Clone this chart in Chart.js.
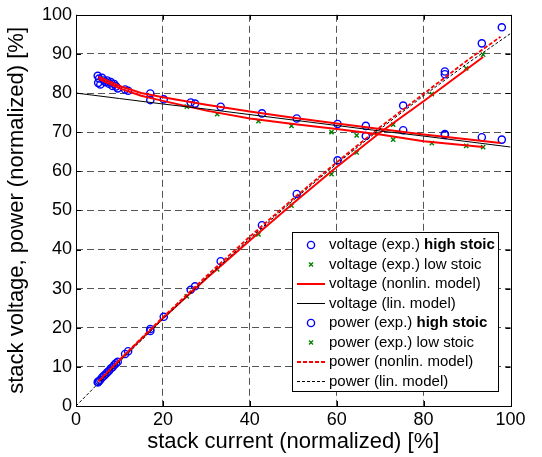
<!DOCTYPE html>
<html>
<head>
<meta charset="utf-8">
<script src="https://cdn.jsdelivr.net/npm/chart.js@4.4.0/dist/chart.umd.min.js"></script>
<style>
  html, body { margin: 0; padding: 0; background: #fff; }
  #wrap { width: 542px; height: 457px; }
</style>
</head>
<body>
<div id="wrap"><canvas id="grafico" width="542" height="457"></canvas></div>
<script>
// ticks
const xTicks = [0, 20, 40, 60, 80, 100];
const yTicks = [0, 10, 20, 30, 40, 50, 60, 70, 80, 90, 100];

// measurements, high stoic (current / voltage / power, all in %)
const iHigh = [5.0, 5.1, 5.3, 5.6, 6.0, 6.4, 6.8, 7.2, 7.6, 8.0, 8.4, 8.8, 9.2, 9.6, 11.3, 12.0, 17.1, 17.1, 20.2, 26.4, 27.4, 33.3, 42.8, 50.8, 60.2, 66.7, 75.3, 84.9, 84.9, 93.4, 98.0];
const vHigh = [84.4, 82.6, 83.7, 82.2, 83.9, 83.2, 82.8, 83.2, 82.4, 82.8, 81.8, 82.3, 81.7, 81.2, 80.9, 80.6, 79.9, 78.2, 78.4, 77.6, 77.3, 76.5, 74.8, 73.5, 72.1, 71.6, 70.5, 69.5, 69.3, 68.7, 68.1];
const pHigh = [6.1, 6.1, 6.4, 6.7, 7.3, 7.7, 8.1, 8.6, 9.0, 9.6, 9.9, 10.5, 10.9, 11.3, 13.3, 14.0, 19.7, 19.2, 22.8, 29.7, 30.6, 37.0, 46.2, 54.2, 62.8, 69.0, 76.8, 85.5, 84.8, 92.7, 96.8];

// measurements, low stoic
const iLow = [25.5, 32.5, 42.0, 49.6, 58.8, 64.6, 73.0, 81.9, 89.8, 93.7];
const vLow = [76.5, 74.6, 72.8, 71.6, 70.0, 69.2, 68.1, 67.2, 66.5, 66.2];
const pLow = [28.0, 34.9, 43.9, 51.2, 59.3, 64.8, 71.9, 79.7, 86.3, 89.8];

// nonlinear model, upper curve
const iNonA = [5.2, 10, 15, 20, 30, 40, 50, 60, 70, 80, 90, 97.7];
const vNonA = [84.2, 81.8, 80.0, 78.9, 77.0, 75.3, 73.7, 72.2, 70.8, 69.4, 68.2, 67.2];
const pNonA = [6.3, 11.8, 17.3, 22.7, 33.2, 43.3, 53.0, 62.3, 71.3, 79.8, 88.3, 94.4];

// nonlinear model, lower curve
const iNonB = [5.2, 10, 15, 20, 30, 40, 50, 60, 70, 80, 93.7];
const vNonB = [83.6, 81.2, 79.3, 78.0, 75.5, 73.5, 72.1, 70.8, 69.4, 67.7, 66.2];
const pNonB = [6.25, 11.7, 17.1, 22.4, 32.6, 42.3, 51.8, 61.1, 69.9, 77.9, 89.2];

// linear model
const iLin = [0, 10, 20, 30, 40, 50, 60, 70, 80, 90, 100];
const vLin = [80.0, 78.6, 77.2, 75.9, 74.5, 73.1, 71.7, 70.3, 69.0, 67.6, 66.2];
const pLin = [0, 11.3, 22.2, 32.7, 42.8, 52.6, 61.9, 70.8, 79.3, 87.5, 95.2];

const pts = (xs, ys) => xs.map((x, i) => ({ x, y: ys[i] }));

const FONT = 'Liberation Sans, Arial, sans-serif';

const linha = (label, xs, ys, cor, largura, tracejado, leg) => ({
  label, leg, data: pts(xs, ys), showLine: true, pointRadius: 0,
  borderColor: cor, borderWidth: largura, borderDash: tracejado, fill: false
});
const marcas = (label, bold, xs, ys, estilo, cor, raio, leg) => ({
  label, bold, leg, data: pts(xs, ys), showLine: false,
  pointStyle: estilo, pointRadius: raio, pointBorderColor: cor, pointBackgroundColor: 'rgba(0,0,0,0)',
  pointBorderWidth: 1.4, borderColor: cor
});

// dataset 0 is drawn on top
const datasets = [
  linha('power (lin. model)', iLin, pLin, '#000', 1, [3, 2], 7),
  linha('voltage (lin. model)', iLin, vLin, '#000', 1, [], 3),
  linha('power (nonlin. model)', iNonA, pNonA, '#ff0000', 1.8, [4, 2], 6),
  linha('', iNonB, pNonB, '#ff0000', 2, [], -1),
  linha('voltage (nonlin. model)', iNonA, vNonA, '#ff0000', 2, [], 2),
  linha('', iNonB, vNonB, '#ff0000', 2, [], -1),
  marcas('power (exp.) low stoic', '', iLow, pLow, 'crossRot', '#008000', 3, 5),
  marcas('voltage (exp.) low stoic', '', iLow, vLow, 'crossRot', '#008000', 3, 1),
  marcas('power (exp.) ', 'high stoic', iHigh, pHigh, 'circle', '#0000ff', 3.6, 4),
  marcas('voltage (exp.) ', 'high stoic', iHigh, vHigh, 'circle', '#0000ff', 3.6, 0)
];

// box with inward ticks on all sides
const moldura = {
  id: 'moldura',
  afterDatasetsDraw(chart) {
    const { ctx, chartArea: a, scales: { x, y } } = chart;
    ctx.save();
    ctx.strokeStyle = '#000';
    ctx.lineWidth = 1;
    ctx.setLineDash([]);
    ctx.strokeRect(Math.round(a.left) + 0.5, Math.round(a.top) + 0.5, Math.round(a.right - a.left), Math.round(a.bottom - a.top));
    ctx.beginPath();
    xTicks.forEach(v => {
      const px = Math.round(x.getPixelForValue(v)) + 0.5;
      ctx.moveTo(px, a.bottom); ctx.lineTo(px, a.bottom - 5);
      ctx.moveTo(px, a.top); ctx.lineTo(px, a.top + 5);
    });
    yTicks.forEach(v => {
      const py = Math.round(y.getPixelForValue(v)) + 0.5;
      ctx.moveTo(a.left, py); ctx.lineTo(a.left + 5, py);
      ctx.moveTo(a.right, py); ctx.lineTo(a.right - 5, py);
    });
    ctx.stroke();
    ctx.restore();
  }
};

// legend with partly bold labels
const legenda = {
  id: 'legenda',
  afterDraw(chart) {
    const { ctx } = chart;
    const box = { l: 292.5, t: 232.5, r: 498.5, b: 391.5 };
    ctx.save();
    ctx.fillStyle = '#fff';
    ctx.fillRect(box.l, box.t, box.r - box.l, box.b - box.t);
    ctx.strokeStyle = '#000';
    ctx.lineWidth = 1;
    ctx.strokeRect(box.l, box.t, box.r - box.l, box.b - box.t);
    const itens = chart.data.datasets.filter(d => d.leg >= 0).sort((a, b) => a.leg - b.leg);
    itens.forEach((d, i) => {
      const yy = 245 + i * 19.5;
      if (d.showLine) {
        ctx.beginPath();
        ctx.strokeStyle = d.borderColor;
        ctx.lineWidth = d.borderWidth;
        ctx.setLineDash(d.borderDash);
        ctx.moveTo(297, yy); ctx.lineTo(325, yy);
        ctx.stroke();
        ctx.setLineDash([]);
      } else {
        ctx.strokeStyle = d.pointBorderColor;
        ctx.lineWidth = 1.4;
        ctx.beginPath();
        if (d.pointStyle === 'circle') {
          ctx.arc(311, yy, 3.6, 0, Math.PI * 2);
        } else {
          ctx.moveTo(309, yy - 2); ctx.lineTo(313, yy + 2);
          ctx.moveTo(309, yy + 2); ctx.lineTo(313, yy - 2);
        }
        ctx.stroke();
      }
      ctx.fillStyle = '#000';
      ctx.textBaseline = 'middle';
      ctx.font = '15px ' + FONT;
      ctx.fillText(d.label, 329, yy);
      if (d.bold) {
        const w = ctx.measureText(d.label).width;
        ctx.font = 'bold 15px ' + FONT;
        ctx.fillText(d.bold, 329 + w, yy);
      }
    });
    ctx.restore();
  }
};

const corGrade = c => (c.tick && (c.tick.value === 0 || c.tick.value === 100)) ? 'rgba(0,0,0,0)' : '#555';

new Chart(document.getElementById('grafico'), {
  type: 'scatter',
  data: { datasets },
  options: {
    responsive: false,
    animation: false,
    events: [],
    layout: { padding: { left: 0, right: 31.5, top: 11, bottom: 0 } },
    plugins: { legend: { display: false }, tooltip: { enabled: false } },
    scales: {
      x: {
        type: 'linear', min: 0, max: 100,
        afterBuildTicks: s => { s.ticks = xTicks.map(v => ({ value: v })); },
        afterFit: s => { s.height = 51; },
        grid: { color: corGrade, drawTicks: false, lineWidth: 1 },
        border: { display: false, dash: [7, 4] },
        ticks: { color: '#000', font: { family: FONT, size: 18 }, padding: 3, maxRotation: 0 },
        title: { display: true, text: 'stack current (normalized) [%]', color: '#000', font: { family: FONT, size: 22 }, padding: { top: 0, bottom: 2 } }
      },
      y: {
        type: 'linear', min: 0, max: 100,
        afterBuildTicks: s => { s.ticks = yTicks.map(v => ({ value: v })); },
        afterFit: s => { s.width = 76; },
        grid: { color: corGrade, drawTicks: false, lineWidth: 1 },
        border: { display: false, dash: [7, 4] },
        ticks: { color: '#000', font: { family: FONT, size: 18 }, padding: 4 },
        title: { display: true, text: 'stack voltage, power (normalized) [%]', color: '#000', font: { family: FONT, size: 22 }, padding: { top: 4, bottom: 0 } }
      }
    }
  },
  plugins: [moldura, legenda]
});
</script>
</body>
</html>
